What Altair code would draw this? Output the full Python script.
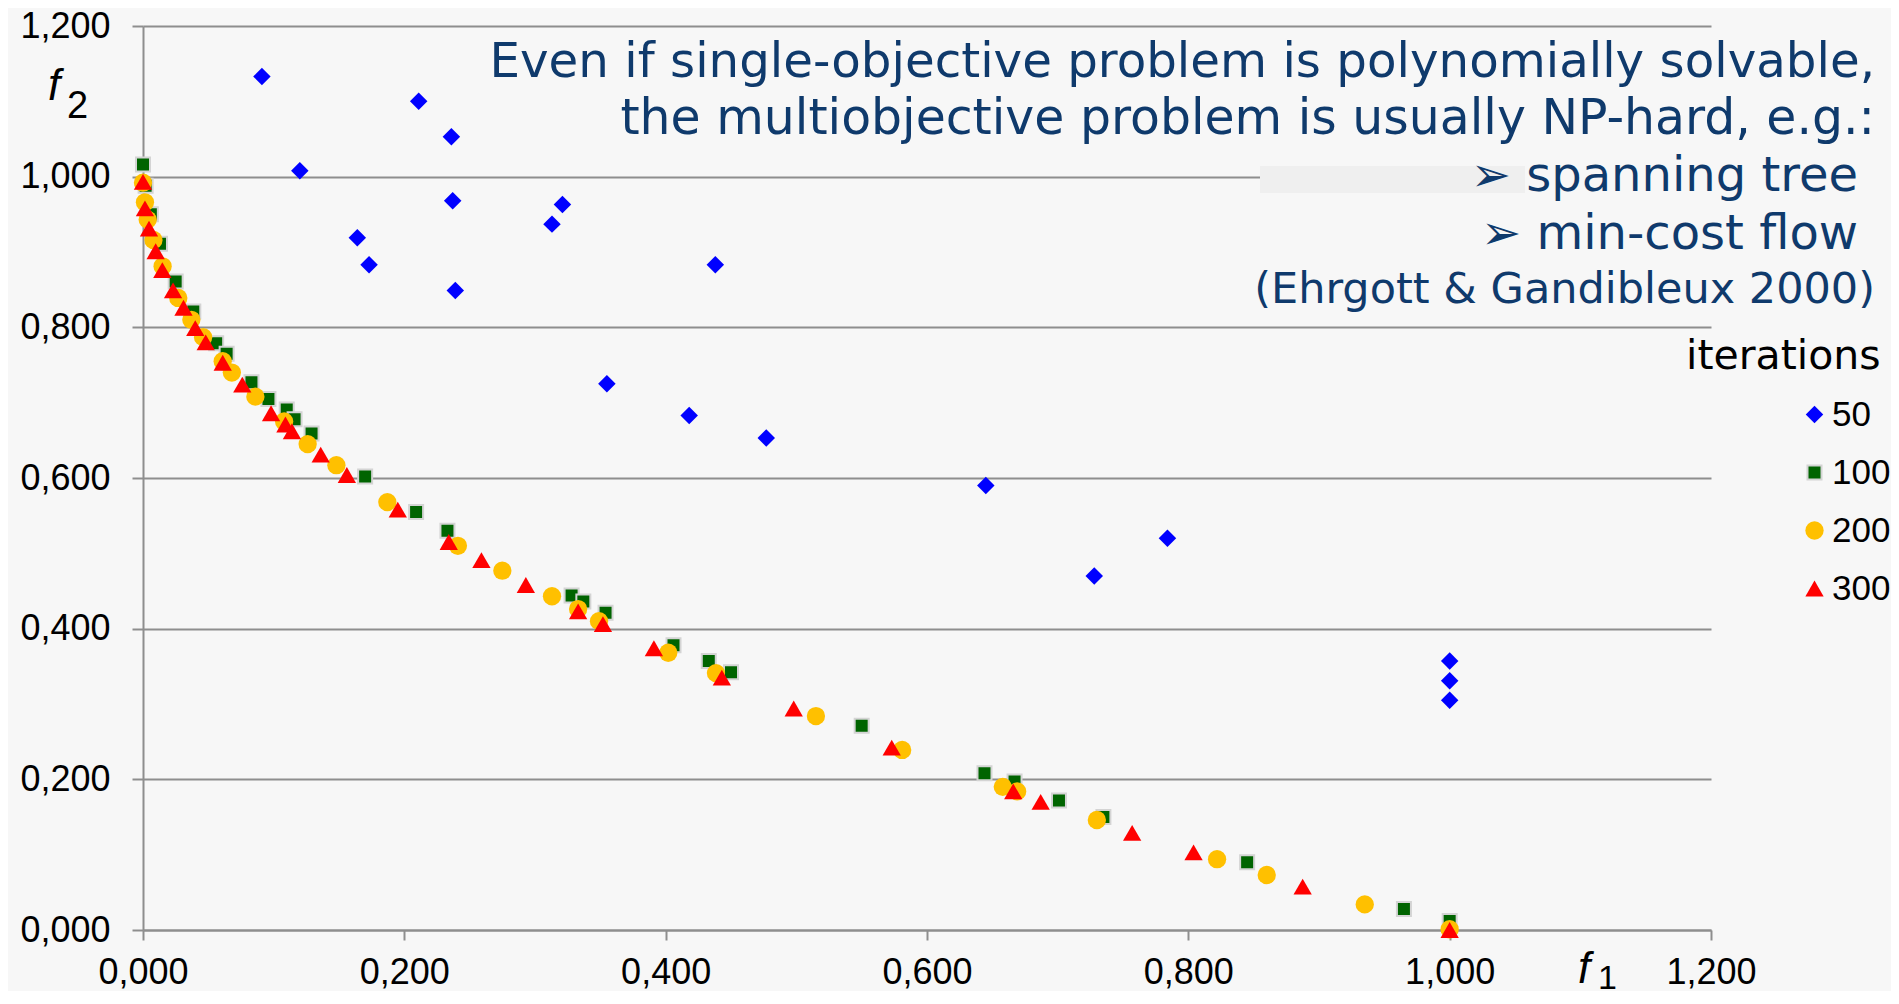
import altair as alt
import pandas as pd

# ---------------- data ----------------
series_names = ["50", "100", "200", "300"]

f1_50 = [0.091, 0.211, 0.236, 0.120, 0.237, 0.321, 0.313, 0.164, 0.173, 0.239,
         0.438, 0.355, 0.418, 0.477, 0.645, 0.784, 0.728, 1.000, 1.000, 1.000]
f2_50 = [1.133, 1.100, 1.053, 1.008, 0.968, 0.963, 0.937, 0.919, 0.883, 0.849,
         0.883, 0.725, 0.683, 0.653, 0.590, 0.520, 0.470, 0.357, 0.331, 0.305]

f1_100 = [0.000, 0.002, 0.006, 0.013, 0.025, 0.0385, 0.056, 0.064, 0.083, 0.096,
          0.110, 0.116, 0.129, 0.170, 0.209, 0.233, 0.328, 0.337, 0.354, 0.406,
          0.433, 0.450, 0.550, 0.644, 0.667, 0.701, 0.735, 0.845, 0.965, 1.000]
f2_100 = [1.016, 0.988, 0.950, 0.911, 0.861, 0.821, 0.779, 0.765, 0.727, 0.705,
          0.691, 0.678, 0.659, 0.602, 0.555, 0.530, 0.444, 0.436, 0.421, 0.378,
          0.357, 0.342, 0.271, 0.208, 0.197, 0.172, 0.150, 0.090, 0.028, 0.012]

f1_200 = [0.000, 0.0015, 0.0036, 0.008, 0.015, 0.027, 0.037, 0.046, 0.061, 0.068,
          0.086, 0.108, 0.126, 0.148, 0.187, 0.241, 0.275, 0.313, 0.333, 0.349,
          0.402, 0.4385, 0.515, 0.581, 0.658, 0.669, 0.730, 0.822, 0.860, 0.935, 1.000]
f2_200 = [0.992, 0.966, 0.943, 0.916, 0.881, 0.839, 0.810, 0.787, 0.755, 0.740,
          0.708, 0.675, 0.645, 0.617, 0.568, 0.510, 0.477, 0.443, 0.426, 0.410,
          0.368, 0.341, 0.284, 0.239, 0.190, 0.184, 0.146, 0.094, 0.073, 0.034, 0.001]

f1_300 = [0.000, 0.0015, 0.0046, 0.0097, 0.0148, 0.023, 0.031, 0.040, 0.048, 0.061,
          0.076, 0.098, 0.109, 0.114, 0.136, 0.156, 0.195, 0.234, 0.259, 0.293,
          0.333, 0.352, 0.391, 0.443, 0.498, 0.573, 0.666, 0.687, 0.757, 0.804,
          0.8875, 1.000]
f2_300 = [0.993, 0.958, 0.931, 0.901, 0.876, 0.849, 0.826, 0.799, 0.780, 0.753,
          0.724, 0.686, 0.671, 0.662, 0.631, 0.604, 0.558, 0.515, 0.491, 0.458,
          0.423, 0.406, 0.374, 0.335, 0.294, 0.242, 0.184, 0.170, 0.129, 0.103,
          0.0575, 0.000]

tick_values = [0.0, 0.2, 0.4, 0.6, 0.8, 1.0, 1.2]

note_lines = [
    "Even if single-objective problem is polynomially solvable,",
    "the multiobjective problem is usually NP-hard, e.g.:",
    "\u27a2 spanning tree",
    "\u27a2 min-cost flow",
    "(Ehrgott & Gandibleux 2000)",
]
legend_title = "iterations"

# ---------------- styling ----------------
colors = ["#0000ff", "#006400", "#ffc000", "#ff0000"]
shapes = ["diamond", "square", "circle", "triangle-up"]
sizes = [306, 196, 335, 335]
strokes = ["transparent", "#d4d4d4", "transparent", "transparent"]
GRID = "#8e8e8e"
BG = "#f7f7f7"
NAVY = "#0f3a6c"
W, H = 1568, 904

rows = []
for name, xs, ys in [("50", f1_50, f2_50), ("100", f1_100, f2_100),
                     ("200", f1_200, f2_200), ("300", f1_300, f2_300)]:
    for a, b in zip(xs, ys):
        rows.append({"series": name, "f1": a, "f2": b})
df = pd.DataFrame(rows)

label_expr = "replace(format(datum.value, '.3f'), '.', ',')"

axis_common = dict(
    values=tick_values, labelExpr=label_expr, title=None,
    domainColor=GRID, domainWidth=2, tickColor=GRID, tickWidth=2,
    labelFont="Liberation Sans", labelFontSize=36, labelColor="#000000",
    labelFlush=False, labelOverlap=False,
)

points = alt.Chart(df).mark_point(filled=True, opacity=1, strokeWidth=2).encode(
    x=alt.X("f1:Q", scale=alt.Scale(domain=[0, 1.2], nice=False, zero=False),
            axis=alt.Axis(grid=False, tickSize=10, labelPadding=15, **axis_common)),
    y=alt.Y("f2:Q", scale=alt.Scale(domain=[0, 1.2], nice=False, zero=False),
            axis=alt.Axis(grid=True, gridColor=GRID, gridWidth=2, tickSize=11,
                          labelPadding=22, **axis_common)),
    color=alt.Color("series:N", scale=alt.Scale(domain=series_names, range=colors),
                    legend=alt.Legend(
                        title=legend_title, orient="none", legendX=1543, legendY=311,
                        titleFont="DejaVu Sans", titleFontSize=41, titleFontWeight="normal",
                        titleColor="#000000", titlePadding=19, titleLimit=400,
                        labelFont="Liberation Sans", labelFontSize=35, labelColor="#000000",
                        labelLimit=200, labelOffset=0, symbolOffset=111, rowPadding=22,
                        symbolStrokeWidth=2)),
    shape=alt.Shape("series:N", scale=alt.Scale(domain=series_names, range=shapes)),
    size=alt.Size("series:N", scale=alt.Scale(type="ordinal", domain=series_names, range=sizes)),
    stroke=alt.Stroke("series:N", scale=alt.Scale(domain=series_names, range=strokes)),
)

one = pd.DataFrame({"k": [0]})

# band that hides the 1,000 gridline behind the "spanning tree" text box
band1 = alt.Chart(one).mark_rect(color="#efefef").encode(
    x=alt.value(1117), x2=alt.value(1382), y=alt.value(140), y2=alt.value(167))
band2 = alt.Chart(one).mark_rect(color=BG).encode(
    x=alt.value(1382), x2=alt.value(1570), y=alt.value(140), y2=alt.value(167))


def note(text, x, y, size):
    return alt.Chart(one).mark_text(
        text=text, align="right", baseline="alphabetic", font="DejaVu Sans",
        fontSize=size, color=NAVY).encode(x=alt.value(x), y=alt.value(y))


notes = [
    note(note_lines[0], 1732, 50.5, 48.3),
    note(note_lines[1], 1732, 108, 48.9),
    note(note_lines[2], 1715, 164.7, 48),
    note(note_lines[3], 1715, 222.8, 48),
    note(note_lines[4], 1732, 276.7, 43),
]


def lab(text, x, y, size, italic=False):
    return alt.Chart(one).mark_text(
        text=text, align="left", baseline="alphabetic", font="Liberation Sans",
        fontSize=size, fontStyle="italic" if italic else "normal",
        color="#000000").encode(x=alt.value(x), y=alt.value(y))


axis_titles = [
    lab("f", -95, 74, 44, True),
    lab("2", -76, 92, 38),
    lab("f", 1435, 957, 44, True),
    lab("1", 1455, 963, 34),
]

chart = alt.layer(points, band1, band2, *notes, *axis_titles).properties(
    width=W, height=H,
    padding={"left": 135, "top": 18, "right": 180, "bottom": 61},
    autosize=alt.AutoSizeParams(type="none"),
    background=BG,
).configure_view(stroke="transparent")

chart.save("out.html", embed_options={"renderer": "svg", "actions": False})
